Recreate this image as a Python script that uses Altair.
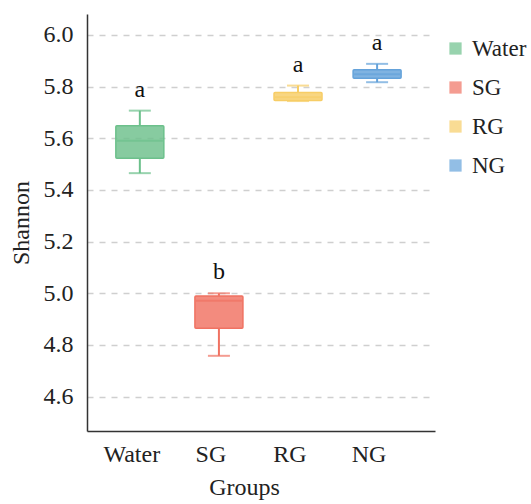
import altair as alt
import pandas as pd

groups = ["Water", "SG", "RG", "NG"]
lower = [5.465, 4.758, 5.744, 5.817]
q1 = [5.523, 4.865, 5.746, 5.832]
median = [5.590, 4.971, 5.759, 5.848]
q3 = [5.648, 4.990, 5.777, 5.865]
upper = [5.707, 5.000, 5.804, 5.888]
letters = ["a", "b", "a", "a"]
colors = ["#6cc08b", "#f07262", "#f7cd66", "#64a2da"]
y_ticks = [4.6, 4.8, 5.0, 5.2, 5.4, 5.6, 5.8, 6.0]

df = pd.DataFrame(dict(group=groups, lower=lower, q1=q1, median=median,
                       q3=q3, upper=upper, letter=letters))

FONT = "Liberation Serif, Times New Roman, serif"
FS = 24

xenc = alt.X("group:N", sort=groups,
             scale=alt.Scale(paddingInner=0, paddingOuter=0.2, align=0.42),
             axis=alt.Axis(title="Groups", ticks=False, labelAngle=0,
                           labelPadding=11, labelOffset=-8, titlePadding=9,
                           titleX=157, titleAlign="center",
                           domainColor="#333333", domainWidth=1.5))
yscale = alt.Scale(domain=[4.467, 6.081], nice=False, zero=False)
yaxis = alt.Axis(title="Shannon", values=y_ticks, format=".1f", ticks=False,
                 labelPadding=14, titlePadding=10, domainColor="#333333",
                 domainWidth=1.5, grid=True, gridDash=[6, 6],
                 gridColor="#cfcfcf", gridWidth=1.5)

cscale = alt.Scale(domain=groups, range=colors)
col = alt.Color("group:N", sort=groups, scale=cscale)
base = alt.Chart(df)

whisk_lo = base.mark_rule(strokeWidth=2).encode(
    x=xenc, y=alt.Y("lower:Q", scale=yscale, axis=yaxis), y2="q1:Q", color=col)
whisk_hi = base.mark_rule(strokeWidth=2).encode(
    x=xenc, y=alt.Y("q3:Q", scale=yscale), y2="upper:Q", color=col)
cap_lo = base.mark_tick(size=22, thickness=2).encode(
    x=xenc, y=alt.Y("lower:Q", scale=yscale), color=col)
cap_hi = base.mark_tick(size=22, thickness=2).encode(
    x=xenc, y=alt.Y("upper:Q", scale=yscale), color=col)
box = base.mark_bar(size=48, fillOpacity=0.82, cornerRadius=1).encode(
    x=xenc, y=alt.Y("q1:Q", scale=yscale), y2="q3:Q",
    color=alt.Color("group:N", sort=groups, scale=cscale,
                    legend=alt.Legend(title=None, orient="none", legendX=357,
                                      legendY=23, symbolType="square",
                                      symbolSize=150, symbolStrokeWidth=0,
                                      symbolOpacity=0.85,
                                      labelFont=FONT, labelFontSize=23,
                                      labelColor="#222222", rowPadding=15,
                                      labelOffset=5)))
box_edge = base.mark_bar(size=48, filled=False, strokeWidth=1.5, cornerRadius=1).encode(
    x=xenc, y=alt.Y("q1:Q", scale=yscale), y2="q3:Q", color=col)
med = base.mark_tick(size=46, thickness=2).encode(
    x=xenc, y=alt.Y("median:Q", scale=yscale), color=col)
txt = base.mark_text(dy=-9, baseline="bottom", fontSize=FS, font=FONT,
                     color="#111111").encode(
    x=xenc, y=alt.Y("upper:Q", scale=yscale), text="letter:N")

chart = alt.layer(whisk_lo, whisk_hi, cap_lo, cap_hi, box, box_edge, med, txt).properties(
    width=348, height=417,
    padding={"left": 87, "top": 14, "right": 96, "bottom": 73},
    autosize=alt.AutoSizeParams(type="none"),
).configure_view(stroke=None).configure_axis(
    labelFont=FONT, labelFontSize=FS, labelColor="#222222",
    titleFont=FONT, titleFontSize=FS, titleFontWeight="normal",
    titleColor="#222222",
).configure_axisX(grid=False)

chart.save("out.html", embed_options={"renderer": "svg", "actions": False})
